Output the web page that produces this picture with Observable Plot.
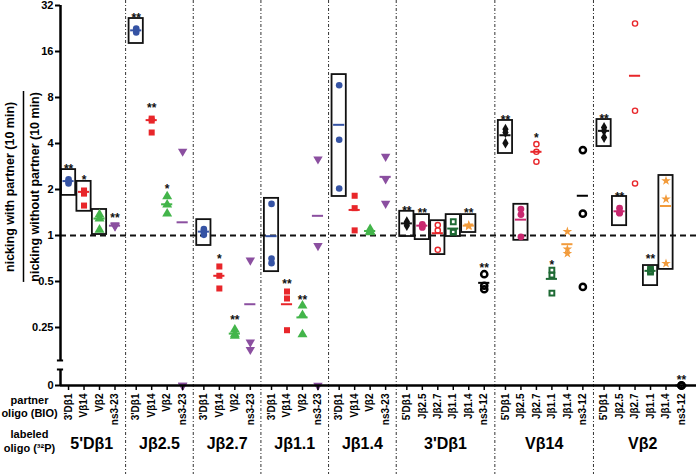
<!DOCTYPE html>
<html><head><meta charset="utf-8">
<script src="https://cdn.jsdelivr.net/npm/d3@7"></script>
<script src="https://cdn.jsdelivr.net/npm/@observablehq/plot@0.6"></script>
<style>body{margin:0;background:#fff;font-family:"Liberation Sans",Arial,sans-serif}</style>
</head><body><div id="chart"></div>
<script>
// ---------- data ----------
const groups = ["5'Dβ1","Jβ2.5","Jβ2.7","Jβ1.1","Jβ1.4","3'Dβ1","Vβ14","Vβ2"];
const partnersJ = ["3'Dβ1","Vβ14","Vβ2","ns3-23"];
const partnersV = ["5'Dβ1","Jβ2.5","Jβ2.7","Jβ1.1","Jβ1.4","ns3-12"];
const groupPartners = [partnersJ,partnersJ,partnersJ,partnersJ,partnersJ,partnersV,partnersV,partnersV];

// replicate ratios, rows follow the partner order of each labeled oligo
const vals_5Db1 = [[2.33,2.25,2.19],[1.97,1.88,1.57],[1.37,1.29,1.09],[1.17,1.15,1.16]];
const vals_Jb25 = [[22.6,22.0,21.3],[5.82,5.65,4.72],[1.80,1.59,1.39],[3.55,0,0]];
const vals_Jb27 = [[1.10,1.06,1.01],[0.627,0.545,0.45],[0.242,0.225,0.22],[0.689,0.2,0.179]];
const vals_Jb11 = [[1.61,0.659,0.707],[0.43,0.387,0.24],[0.347,0.301,0.225],[3.16,0.856,0]];
const vals_Jb14 = [[9.63,4.23,2.03],[1.82,1.51,1.08],[1.10,1.07,1.05],[3.29,2.34,1.62]];
const vals_3Db1 = [[1.23,1.20,1.16],[1.18,1.16,1.13],[1.17,1.08,0.806],[1.23,1.05,1.06],[1.17,1.16,1.15],[0.558,0.469,0.445]];
const vals_Vb14 = [[4.96,4.72,4.02],[1.49,1.37,0.98],[3.96,3.53,3.04],[0.593,0.55,0.42],[1.06,0.814,0.762],[3.62,1.39,0.461]];
const vals_Vb2  = [[5.09,4.84,4.38],[1.51,1.41,1.40],[24.4,6.55,2.19],[0.60,0.585,0.575],[2.28,1.73,0.656],[0,0,0]];

// mean lines
const means_5Db1 = [2.27,1.93,1.29,1.16];
const means_Jb25 = [22.0,5.69,1.60,1.22];
const means_Jb27 = [1.06,0.545,0.228,0.355];
const means_Jb11 = [0.99,0.355,0.291,1.345];
const means_Jb14 = [5.30,1.47,1.07,2.42];
const means_3Db1 = [1.20,1.16,1.035,1.11,1.16,0.49];
const means_Vb14 = [4.53,1.27,3.53,0.52,0.877,1.82];
const means_Vb2  = [4.84,1.44,11.1,0.587,1.56,0];

// boxed conditions: [labeled, partner, low, high]
const boxes = [
 ["5'Dβ1","3'Dβ1",1.83,2.70],["5'Dβ1","Vβ14",1.44,2.26],["5'Dβ1","Vβ2",1.015,1.48],
 ["Jβ2.5","3'Dβ1",18.05,26.3],["Jβ2.7","3'Dβ1",0.86,1.27],["Jβ1.1","3'Dβ1",0.58,1.75],
 ["Jβ1.4","3'Dβ1",1.80,11.3],
 ["3'Dβ1","5'Dβ1",0.985,1.44],["3'Dβ1","Jβ2.5",0.94,1.37],["3'Dβ1","Jβ2.7",0.75,1.25],
 ["3'Dβ1","Jβ1.1",0.985,1.37],["3'Dβ1","Jβ1.4",1.046,1.37],
 ["Vβ14","5'Dβ1",3.44,5.66],["Vβ14","Jβ2.5",0.93,1.60],
 ["Vβ2","5'Dβ1",3.82,5.74],["Vβ2","Jβ2.5",1.16,1.80],["Vβ2","Jβ1.1",0.47,0.636],["Vβ2","Jβ1.4",0.60,2.47]
];

// significance marks: [labeled, partner, text, level]
const sig = [
 ["5'Dβ1","3'Dβ1","**",2.87],["5'Dβ1","Vβ14","*",2.43],["5'Dβ1","ns3-23","**",1.37],
 ["Jβ2.5","3'Dβ1","**",27.9],["Jβ2.5","Vβ14","**",7.2],["Jβ2.5","Vβ2","*",2.12],
 ["Jβ2.7","Vβ14","*",0.74],["Jβ2.7","Vβ2","**",0.295],
 ["Jβ1.1","Vβ14","**",0.508],["Jβ1.1","Vβ2","**",0.399],
 ["3'Dβ1","5'Dβ1","**",1.525],["3'Dβ1","Jβ2.5","**",1.48],["3'Dβ1","Jβ1.4","**",1.48],["3'Dβ1","ns3-12","**",0.646],
 ["Vβ14","5'Dβ1","**",6.01],["Vβ14","Jβ2.7","*",4.58],["Vβ14","Jβ1.1","*",0.676],
 ["Vβ2","5'Dβ1","**",6.1],["Vβ2","Jβ2.5","**",1.88],["Vβ2","Jβ1.1","**",0.74],["Vβ2","ns3-12","**",0.119]
];

const yTicks = [0,0.25,0.5,1,2,4,8,16,32];
const yTitle1 = "nicking with partner (10 min)";
const yTitle2 = "nicking without partner (10 min)";
const rowLabels = ["partner","oligo (BIO)","labeled","oligo (³²P)"];

// ---------- derived ----------
const valsByGroup = [vals_5Db1,vals_Jb25,vals_Jb27,vals_Jb11,vals_Jb14,vals_3Db1,vals_Vb14,vals_Vb2];
const meansByGroup = [means_5Db1,means_Jb25,means_Jb27,means_Jb11,means_Jb14,means_3Db1,means_Vb14,means_Vb2];
const GAP = 0.37;
const ZERO = 2 ** -3.261;           // where "0" sits below the axis break
const BREAK_HI = 2 ** -2.717, BREAK_LO = 2 ** -2.913;
const yv = v => v === 0 ? ZERO : v;

const cats = [];
let idx = 0;
groups.forEach((g, gi) => groupPartners[gi].forEach((p, pi) => {
  cats.push({group: g, partner: p, gi, pi, pos: idx + GAP * gi}); idx++;
}));
const posOf = (g, p) => cats.find(c => c.group === g && c.partner === p).pos;
const labelByPos = new Map(cats.map(c => [c.pos, c.partner]));

const points = [], means = [];
cats.forEach(c => {
  valsByGroup[c.gi][c.pi].forEach(v => points.push({...c, v}));
  means.push({...c, v: meansByGroup[c.gi][c.pi]});
});
const seps = groups.slice(1).map((g, gi) => {
  const a = cats.filter(c => c.gi === gi), b = cats.filter(c => c.gi === gi + 1);
  return (a[a.length - 1].pos + b[0].pos) / 2;
});
const groupCenters = groups.map((g, gi) => {
  const a = cats.filter(c => c.gi === gi);
  return {g, pos: (a[0].pos + a[a.length - 1].pos) / 2};
});
const boxData = boxes.map(([g, p, lo, hi]) => ({pos: posOf(g, p), lo, hi}));
const sigData = sig.map(([g, p, t, v]) => ({pos: posOf(g, p), t, v}));

const xMin = -0.52, xMax = cats[cats.length - 1].pos + 0.97;
const yMid = 2.08; // vertical centre of the y-axis title

const downTri = {draw(ctx, size) {
  const s = Math.sqrt(size / (Math.sqrt(3) * 3));
  ctx.moveTo(0, 2 * s); ctx.lineTo(Math.sqrt(3) * s, -s); ctx.lineTo(-Math.sqrt(3) * s, -s); ctx.closePath();
}};
const styles = {
  "3'Dβ1": {symbol: "circle", fill: "#3553a4", r: 3.3, c: "#3553a4"},
  "Vβ14": {symbol: "square", fill: "#e8262a", r: 3.4, c: "#e8262a"},
  "Vβ2": {symbol: "triangle", fill: "#43b54a", r: 3.7, c: "#43b54a"},
  "ns3-23": {symbol: downTri, fill: "#8b4fa0", r: 3.5, c: "#8b4fa0"},
  "5'Dβ1": {symbol: "diamond", fill: "#111", r: 3.3, c: "#111"},
  "Jβ2.5": {symbol: "circle", fill: "#c8286f", r: 3.4, c: "#c8286f"},
  "Jβ2.7": {symbol: "circle", fill: "none", stroke: "#e8262a", strokeWidth: 1.4, r: 2.6, c: "#e8262a"},
  "Jβ1.1": {symbol: "square", fill: "none", stroke: "#1e6a34", strokeWidth: 2, r: 2.7, c: "#1e6a34"},
  "Jβ1.4": {symbol: "star", fill: "#f29b3b", r: 3.0, c: "#f29b3b"},
  "ns3-12": {symbol: "circle", fill: "none", stroke: "#000", strokeWidth: 2.5, r: 3.1, c: "#000"}
};

const dotMarks = Object.entries(styles).map(([p, s]) =>
  Plot.dot(points.filter(d => d.partner === p), {
    x: "pos", y: d => yv(d.v), symbol: s.symbol, r: s.r,
    fill: s.fill, stroke: s.stroke || "none", strokeWidth: s.strokeWidth || 0
  }));
const meanMarks = Object.entries(styles).map(([p, s]) =>
  Plot.ruleY(means.filter(d => d.partner === p), {
    y: d => yv(d.v), x1: d => d.pos - 0.36, x2: d => d.pos + 0.36, stroke: s.c, strokeWidth: 2
  }));
const rowOffsets = [18, 31, 52.5, 66];
const rowMarks = rowLabels.map((t, i) =>
  Plot.text([t], {frameAnchor: "bottom-left", textAnchor: "middle", dx: -31, dy: rowOffsets[i], fontSize: 11, fontWeight: "bold"}));

const chart = Plot.plot({
  width: 696, height: 474,
  marginLeft: 60, marginRight: 0, marginTop: 5, marginBottom: 89,
  style: {fontFamily: "'Liberation Sans', Arial, sans-serif", background: "#fff", overflow: "visible"},
  x: {type: "linear", domain: [xMin, xMax], axis: null},
  y: {type: "log", base: 2, domain: [ZERO, 32], axis: null},
  marks: [
    Plot.ruleX(seps, {stroke: "#333", strokeWidth: 1, strokeDasharray: "3,2,1,2", insetTop: -5, insetBottom: -89}),
    Plot.ruleY([1], {stroke: "#111", strokeWidth: 2, strokeDasharray: "6,4"}),
    Plot.rect(boxData, {x1: d => d.pos - 0.46, x2: d => d.pos + 0.46, y1: "lo", y2: "hi", fill: "none", stroke: "#111", strokeWidth: 1.8}),
    ...dotMarks,
    ...meanMarks,
    Plot.text(sigData, {x: "pos", y: "v", text: "t", fontSize: 12, fontWeight: "bold", dy: 3.5, fill: "#111"}),
    // axes
    Plot.ruleX([xMin], {y1: BREAK_HI, y2: 32, strokeWidth: 2.5}),
    Plot.ruleX([xMin], {y1: ZERO, y2: BREAK_LO, strokeWidth: 2.5}),
    Plot.ruleY([BREAK_HI, BREAK_LO], {x1: xMin - 0.2, x2: xMin + 0.2, strokeWidth: 2}),
    Plot.ruleY([ZERO], {strokeWidth: 2.5}),
    Plot.axisY({ticks: yTicks.map(yv), tickFormat: d => d === ZERO ? "0" : String(d), tickSize: 5, tickPadding: 2,
      fontSize: 11, fontWeight: "bold", strokeWidth: 2, label: null}),
    Plot.axisX({ticks: cats.map(c => c.pos), tickFormat: p => labelByPos.get(p), tickRotate: -90, tickSize: 5,
      tickPadding: 3, fontSize: 10, fontWeight: "bold", strokeWidth: 1.5, label: null}),
    Plot.text(groupCenters, {x: "pos", y: () => ZERO, text: "g", dy: 58, fontSize: 16, fontWeight: "bold"}),
    ...rowMarks,
    Plot.text([yTitle1], {x: () => xMin, y: () => yMid, text: d => d, dx: -51, rotate: -90, fontSize: 12.5, fontWeight: "bold"}),
    Plot.text([yTitle2], {x: () => xMin, y: () => yMid, text: d => d, dx: -26, rotate: -90, fontSize: 12.5, fontWeight: "bold"}),
    Plot.ruleX([xMin], {y1: 8.76, y2: 0.493, dx: -37, strokeWidth: 1.5})
  ]
});
document.getElementById("chart").appendChild(chart);
</script>
</body></html>
